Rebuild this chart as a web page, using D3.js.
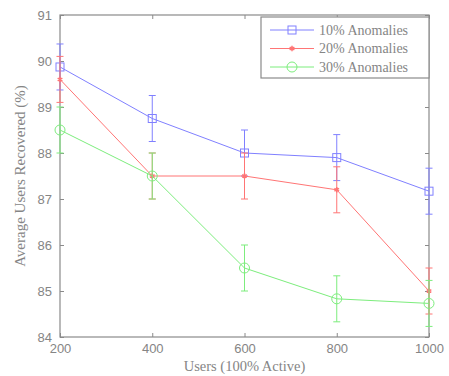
<!DOCTYPE html>
<html>
<head>
<meta charset="utf-8">
<script src="https://cdn.jsdelivr.net/npm/d3@7"></script>
<style>
  body { margin: 0; background: #fff; }
  .tick text { font-family: "Liberation Sans", Arial, sans-serif; }
</style>
</head>
<body>
<div id="chart"></div>
<script>
// users on the x axis
const users = [200, 400, 600, 800, 1000];

// average users recovered (%) for each anomaly level
const anom10 = [89.87, 88.75, 88.0, 87.9, 87.17];
const anom20 = [89.6, 87.5, 87.5, 87.2, 85.0];
const anom30 = [88.5, 87.5, 85.5, 84.83, 84.73];

// error bar half-widths
const err10 = [0.5, 0.5, 0.5, 0.5, 0.5];
const err20 = [0.5, 0.5, 0.5, 0.5, 0.5];
const err30 = [0.5, 0.5, 0.5, 0.5, 0.5];

const seriesNames = ["10% Anomalies", "20% Anomalies", "30% Anomalies"];
const yTicks = [84, 85, 86, 87, 88, 89, 90, 91];

const series = [
    {name: seriesNames[0], values: anom10, err: err10, color: "#8080ff", marker: "square"},
    {name: seriesNames[1], values: anom20, err: err20, color: "#ff7575", marker: "star"},
    {name: seriesNames[2], values: anom30, err: err30, color: "#7ded7d", marker: "circle"}
];

const width = 449, height = 376;
const margin = {top: 15, right: 20, bottom: 39, left: 60};
const w = width - margin.left - margin.right;
const h = height - margin.top - margin.bottom;
const axisColor = "#8a8a8a";
const textColor = "#858585";

const svg = d3.select("#chart").append("svg")
    .attr("width", width)
    .attr("height", height);

const g = svg.append("g")
    .attr("transform", "translate(" + margin.left + "," + margin.top + ")");

const x = d3.scaleLinear().domain([200, 1000]).range([0, w]);
const y = d3.scaleLinear().domain([84, 91]).range([h, 0]);

// box
g.append("rect")
    .attr("width", w).attr("height", h)
    .attr("fill", "none").attr("stroke", axisColor).attr("stroke-width", 1.2);

// axes with inward ticks
const xAxis = g.append("g")
    .attr("transform", "translate(0," + h + ")")
    .call(d3.axisBottom(x).tickValues(users).tickSize(-4).tickPadding(7).tickFormat(d3.format("d")));
const yAxis = g.append("g")
    .call(d3.axisLeft(y).tickValues(yTicks).tickSize(-4).tickPadding(8).tickFormat(d3.format("d")));
const xTop = g.append("g")
    .call(d3.axisTop(x).tickValues(users).tickSize(-4).tickFormat(""));
const yRight = g.append("g")
    .attr("transform", "translate(" + w + ",0)")
    .call(d3.axisRight(y).tickValues(yTicks).tickSize(-4).tickFormat(""));

[xAxis, yAxis, xTop, yRight].forEach(function(a){
    a.select(".domain").remove();
    a.selectAll(".tick line").attr("stroke", axisColor);
    a.selectAll(".tick text").attr("fill", textColor).attr("font-size", 13);
});

// axis titles
svg.append("text")
    .text("Users (100% Active)")
    .attr("x", margin.left + w / 2)
    .attr("y", 371)
    .attr("text-anchor", "middle")
    .attr("font-family", "Liberation Serif, Times New Roman, serif")
    .attr("font-size", 14.5)
    .attr("fill", textColor);

svg.append("text")
    .text("Average Users Recovered (%)")
    .attr("transform", "translate(25," + (margin.top + h / 2) + ") rotate(-90)")
    .attr("text-anchor", "middle")
    .attr("font-family", "Liberation Serif, Times New Roman, serif")
    .attr("font-size", 15)
    .attr("fill", textColor);

function drawMarker(sel, type, color) {
    if (type == "square") {
        sel.append("rect")
            .attr("x", -4).attr("y", -4).attr("width", 8).attr("height", 8)
            .attr("fill", "none").attr("stroke", color).attr("stroke-width", 1);
    } else if (type == "circle") {
        sel.append("circle")
            .attr("r", 5)
            .attr("fill", "none").attr("stroke", color).attr("stroke-width", 1);
    } else {
        sel.append("path")
            .attr("d", d3.symbol().type(d3.symbolAsterisk).size(20))
            .attr("fill", "none").attr("stroke", color).attr("stroke-width", 1.5);
    }
}

const line = d3.line()
    .x(function(d, i){ return x(users[i]); })
    .y(function(d){ return y(d); });

series.forEach(function(s){
    const sg = g.append("g");

    // error bars
    const eb = sg.selectAll(".err").data(s.values).enter().append("g");
    eb.append("line")
        .attr("x1", (d, i) => x(users[i])).attr("x2", (d, i) => x(users[i]))
        .attr("y1", (d, i) => y(d - s.err[i])).attr("y2", (d, i) => y(d + s.err[i]))
        .attr("stroke", s.color);
    [-1, 1].forEach(function(sign){
        eb.append("line")
            .attr("x1", (d, i) => x(users[i]) - 3.5).attr("x2", (d, i) => x(users[i]) + 3.5)
            .attr("y1", (d, i) => y(d + sign * s.err[i])).attr("y2", (d, i) => y(d + sign * s.err[i]))
            .attr("stroke", s.color);
    });

    sg.append("path")
        .datum(s.values)
        .attr("d", line)
        .attr("fill", "none")
        .attr("stroke", s.color)
        .attr("stroke-width", 1);

    sg.selectAll(".mk").data(s.values).enter().append("g")
        .attr("transform", (d, i) => "translate(" + x(users[i]) + "," + y(d) + ")")
        .each(function(){ drawMarker(d3.select(this), s.marker, s.color); });
});

// legend
const legW = 168, legH = 61;
const leg = g.append("g").attr("transform", "translate(" + (w - legW) + ",2)");
leg.append("rect")
    .attr("width", legW).attr("height", legH)
    .attr("fill", "#fff").attr("stroke", axisColor).attr("stroke-width", 1.2);

series.forEach(function(s, i){
    const ly = 13 + i * 18.5;
    leg.append("line")
        .attr("x1", 9).attr("x2", 53).attr("y1", ly).attr("y2", ly)
        .attr("stroke", s.color);
    drawMarker(leg.append("g").attr("transform", "translate(31," + ly + ")"), s.marker, s.color);
    leg.append("text")
        .text(s.name)
        .attr("x", 58).attr("y", ly + 4.5)
        .attr("font-family", "Liberation Serif, Times New Roman, serif")
        .attr("font-size", 14)
        .attr("fill", textColor);
});
</script>
</body>
</html>
